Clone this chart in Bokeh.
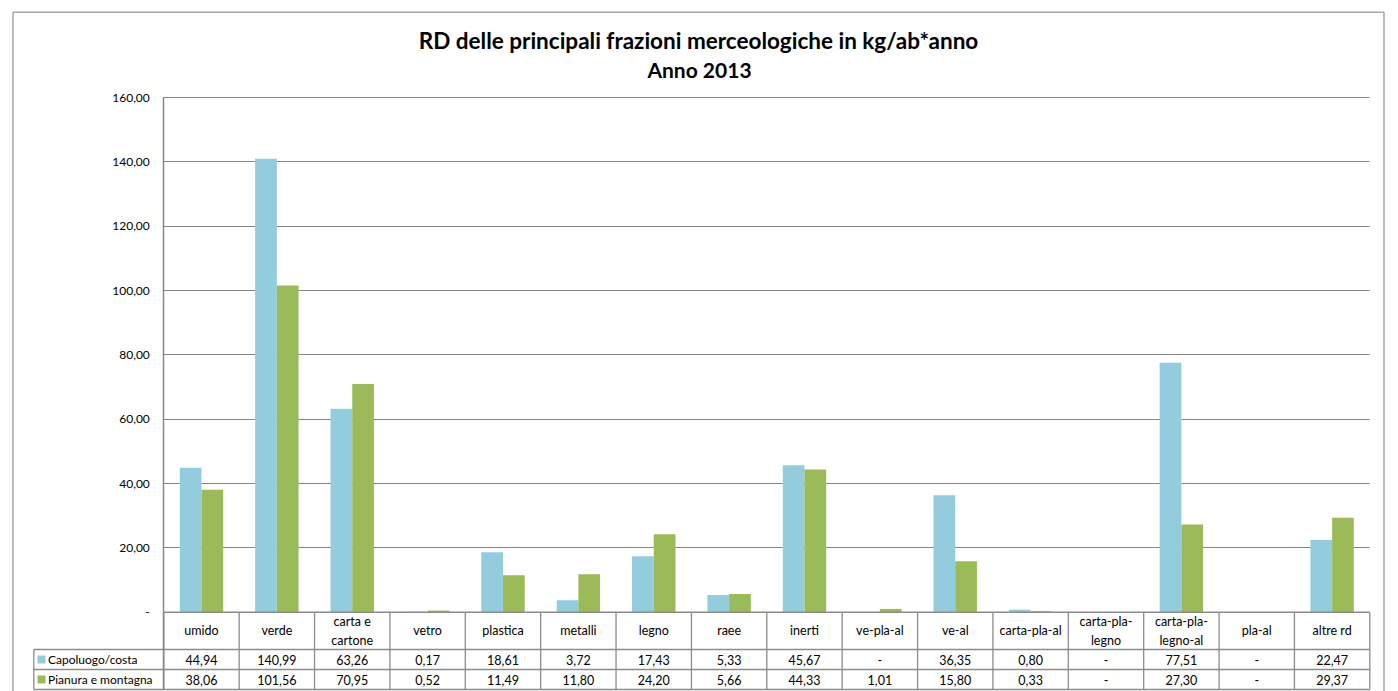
import numpy as np
from bokeh.plotting import figure
from bokeh.models import Range1d, FixedTicker, ColumnDataSource, Grid, CustomJSTickFormatter
from bokeh.core.properties import value
from bokeh.embed import file_html
from bokeh.resources import INLINE

# ---------------- data ----------------
title_line1 = "RD delle principali frazioni merceologiche in kg/ab*anno"
title_line2 = "Anno 2013"
categories = ["umido", "verde", "carta e\ncartone", "vetro", "plastica", "metalli",
              "legno", "raee", "inerti", "ve-pla-al", "ve-al", "carta-pla-al",
              "carta-pla-\nlegno", "carta-pla-\nlegno-al", "pla-al", "altre rd"]
series_names = ["Capoluogo/costa", "Pianura e montagna"]
capoluogo = [44.94, 140.99, 63.26, 0.17, 18.61, 3.72, 17.43, 5.33, 45.67, None,
             36.35, 0.80, None, 77.51, None, 22.47]
pianura = [38.06, 101.56, 70.95, 0.52, 11.49, 11.80, 24.20, 5.66, 44.33, 1.01,
           15.80, 0.33, None, 27.30, None, 29.37]
series_colors = ["#93CDDD", "#9BBB59"]
y_ticks = [0, 20, 40, 60, 80, 100, 120, 140, 160]

# ---------------- layout constants (page px; canvas starts at page 0,0) ----------------
W, H = 1398, 691
FL, FR, FT, FB = 10, 1386, 9, 691           # frame edges
X0_PX, CAT_W = 163.3, 75.375                # x of first category edge, category width
Y0_PX, PPU = 611.7, 514.7 / 160.0           # y of zero line, px per unit


def px(page_x):
    return (page_x - X0_PX) / CAT_W


def py(page_y):
    return -(page_y - Y0_PX) / PPU


p = figure(width=W, height=H, output_backend="svg", toolbar_location=None,
           x_range=Range1d(px(FL), px(FR)), y_range=Range1d(py(FB), py(FT)),
           min_border_left=FL, min_border_right=W - FR,
           min_border_top=FT, min_border_bottom=H - FB)
p.outline_line_color = None
p.background_fill_color = "white"
p.border_fill_color = "white"
p.xaxis.visible = False
p.xgrid.visible = False

n = len(categories)
idx = np.arange(n)
hdr_b, r1_b, r2_b = py(649), py(669), py(689)
leg_left = px(33.3)

# y axis placed at the first category edge
yax = p.yaxis[0]
yax.fixed_location = 0
yax.bounds = (r2_b, y_ticks[-1])
yax.ticker = FixedTicker(ticks=y_ticks)
yax.formatter = CustomJSTickFormatter(
    code="return tick == 0 ? '-' : tick.toFixed(2).replace('.', ',');")
yax.axis_line_color = "#868686"
yax.axis_line_width = 1.5
yax.major_tick_out = 0
yax.major_tick_in = 0
yax.minor_tick_out = 0
yax.minor_tick_in = 0
yax.major_label_standoff = 14
yax.major_label_text_font = "Lato"
yax.major_label_text_font_size = "12px"
yax.major_label_text_color = "#000000"

# gridlines
p.ygrid.ticker = FixedTicker(ticks=y_ticks)
p.ygrid.grid_line_color = "#868686"
p.ygrid.grid_line_width = 1
if "cross_bounds" in Grid.properties():
    p.ygrid.cross_bounds = (0, n)
    p.ygrid.bounds = (0, y_ticks[-1])
else:
    p.ygrid.visible = False
    p.segment(x0=[0] * len(y_ticks), x1=[n] * len(y_ticks), y0=y_ticks, y1=y_ticks,
              line_color="#868686", line_width=1)

# bars
bar_w = 0.288
for k, (vals, col) in enumerate(zip([capoluogo, pianura], series_colors)):
    xs = [i + 0.5 + (k - 0.5) * bar_w for i, v in enumerate(vals) if v is not None]
    tops = [v for v in vals if v is not None]
    src = ColumnDataSource(dict(x=xs, top=tops))
    p.vbar(x="x", top="top", bottom=0, width=bar_w, source=src,
           fill_color=col, line_color=None)

# data table lines
tcol = "#8c8c8c"
tw = 1.3
p.segment(x0=list(range(n + 1)), x1=list(range(n + 1)),
          y0=[0] * (n + 1), y1=[r2_b] * (n + 1), line_color=tcol, line_width=tw)
p.segment(x0=[0, leg_left, leg_left, leg_left], x1=[n, n, n, n],
          y0=[0, hdr_b, r1_b, r2_b], y1=[0, hdr_b, r1_b, r2_b],
          line_color=tcol, line_width=tw)
p.segment(x0=[leg_left], x1=[leg_left], y0=[hdr_b], y1=[r2_b],
          line_color=tcol, line_width=tw)


def fmt(v):
    return "-" if v is None else f"{v:.2f}".replace(".", ",")


font = value("Lato")
p.text(x=idx + 0.5, y=[(0 + hdr_b) / 2] * n, text=categories, text_align="center",
       text_baseline="middle", text_font=font, text_font_size="12.5px",
       text_color="#000000", text_line_height=1.25)
row_mid = [(hdr_b + r1_b) / 2, (r1_b + r2_b) / 2]
for vals, ym in zip([capoluogo, pianura], row_mid):
    p.text(x=idx + 0.5, y=[ym] * n, text=[fmt(v) for v in vals], text_align="center",
           text_baseline="middle", text_font=font, text_font_size="12.5px",
           text_color="#000000")

# legend keys in the table
p.rect(x=[px(41.0)] * 2, y=row_mid, width=8, height=8, width_units="screen",
       height_units="screen", fill_color=series_colors, line_color=None)
p.text(x=[px(47.5)] * 2, y=row_mid, text=series_names, text_align="left",
       text_baseline="middle", text_font=font, text_font_size="12px",
       text_color="#000000")

# title
p.text(x=[px(698)], y=[py(40)], text=[title_line1],
       text_align="center", text_baseline="middle", text_font=font,
       text_font_style="bold", text_font_size="22.5px", text_color="#000000")
p.text(x=[px(699)], y=[py(69)], text=[title_line2],
       text_align="center", text_baseline="middle", text_font=font,
       text_font_style="bold", text_font_size="21px", text_color="#000000")

# outer chart border (left, top, right edges)
bcol = "#a6a6a6"
bl, br, bt = px(12.5), px(1383.5), py(11.7)
p.segment(x0=[bl, bl, br], x1=[bl, br, br], y0=[py(FB + 5), bt, bt],
          y1=[bt, bt, py(FB + 5)], line_color=bcol, line_width=1.5)

open("out.html", "w").write(file_html(p, INLINE))
